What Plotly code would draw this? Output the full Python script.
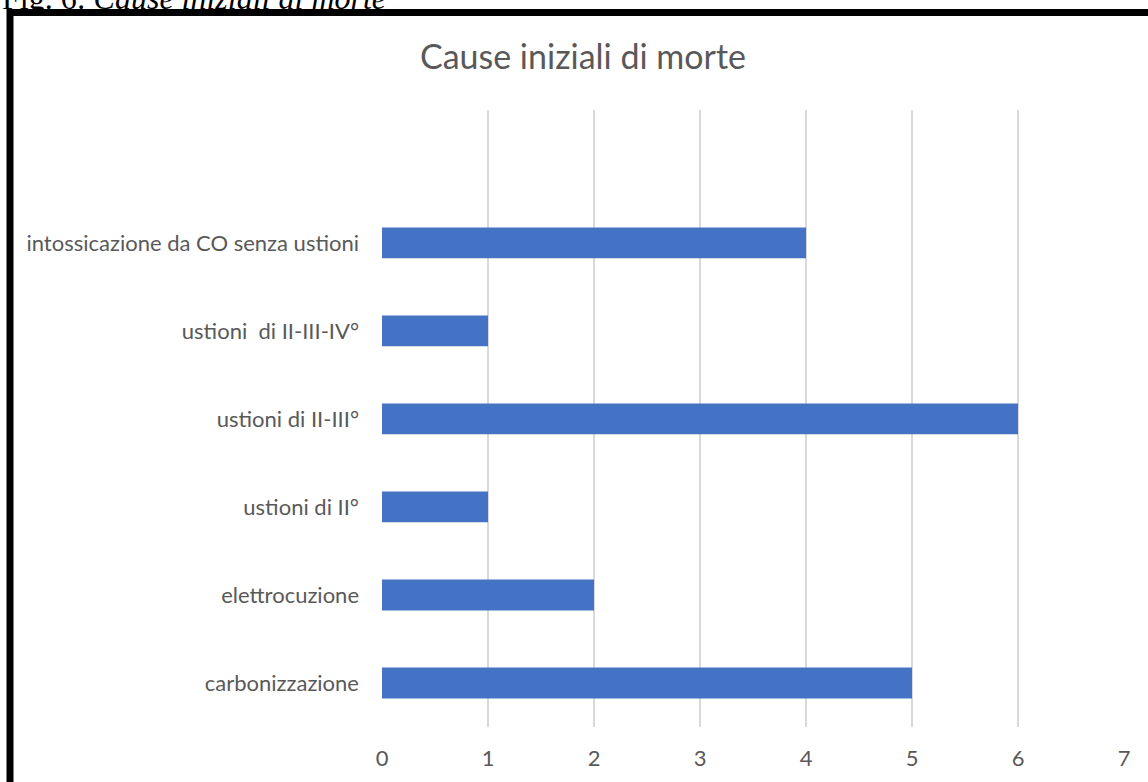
import plotly.graph_objects as go

# Initial causes of death and number of cases
categories = [
    "carbonizzazione",
    "elettrocuzione",
    "ustioni di II°",
    "ustioni di II-III°",
    "ustioni  di II-III-IV°",
    "intossicazione da CO senza ustioni",
]
cases = [5, 2, 1, 6, 1, 4]
x_ticks = [0, 1, 2, 3, 4, 5, 6, 7]

W, H = 1148, 782
L, R, T, B = 382, 24, 110, 55
pw, ph = W - L - R, H - T - B


def px_x(px):
    return (px - L) / pw


def px_y(py):
    return (H - B - py) / ph


fig = go.Figure(
    go.Bar(
        y=categories,
        x=cases,
        orientation="h",
        marker=dict(color="#4472C4", line=dict(width=0)),
        width=0.35,
        hoverinfo="x+y",
    )
)

fig.update_layout(
    width=W,
    height=H,
    margin=dict(l=L, r=R, t=T, b=B, autoexpand=False),
    paper_bgcolor="white",
    plot_bgcolor="white",
    showlegend=False,
    font=dict(family="Lato, Open Sans, sans-serif", color="#595959"),
    title=dict(
        text="Cause iniziali di morte",
        x=px_x(583), xref="paper", xanchor="center",
        y=1 - 57 / H, yanchor="middle",
        font=dict(size=34, color="#595959", family="Lato, Open Sans, sans-serif"),
    ),
    xaxis=dict(
        range=[0, 7],
        tickvals=x_ticks,
        showgrid=True,
        gridcolor="#D9D9D9",
        gridwidth=1.5,
        zeroline=False,
        showline=False,
        ticks="",
        ticklabelstandoff=16,
        tickfont=dict(size=22, color="#595959"),
        automargin=False,
        fixedrange=True,
    ),
    yaxis=dict(
        categoryorder="array",
        categoryarray=categories,
        range=[-0.5, 6.51],
        showgrid=False,
        zeroline=False,
        showline=False,
        ticks="",
        ticklabelstandoff=22,
        tickfont=dict(size=22, color="#595959"),
        automargin=False,
        fixedrange=True,
    ),
    shapes=[
        dict(
            type="rect", xref="paper", yref="paper",
            x0=px_x(10), x1=px_x(1200), y0=px_y(830), y1=px_y(12.5),
            line=dict(color="black", width=7),
            fillcolor="rgba(0,0,0,0)",
            layer="above",
        )
    ],
    annotations=[
        dict(
            text="Fig. 6: <i>Cause iniziali di morte</i>",
            xref="paper", yref="paper",
            x=px_x(0), xanchor="left",
            y=px_y(18), yanchor="bottom",
            showarrow=False,
            font=dict(family="Liberation Serif, Times New Roman, serif", size=32, color="black"),
        )
    ],
)

fig.write_html("out.html")
